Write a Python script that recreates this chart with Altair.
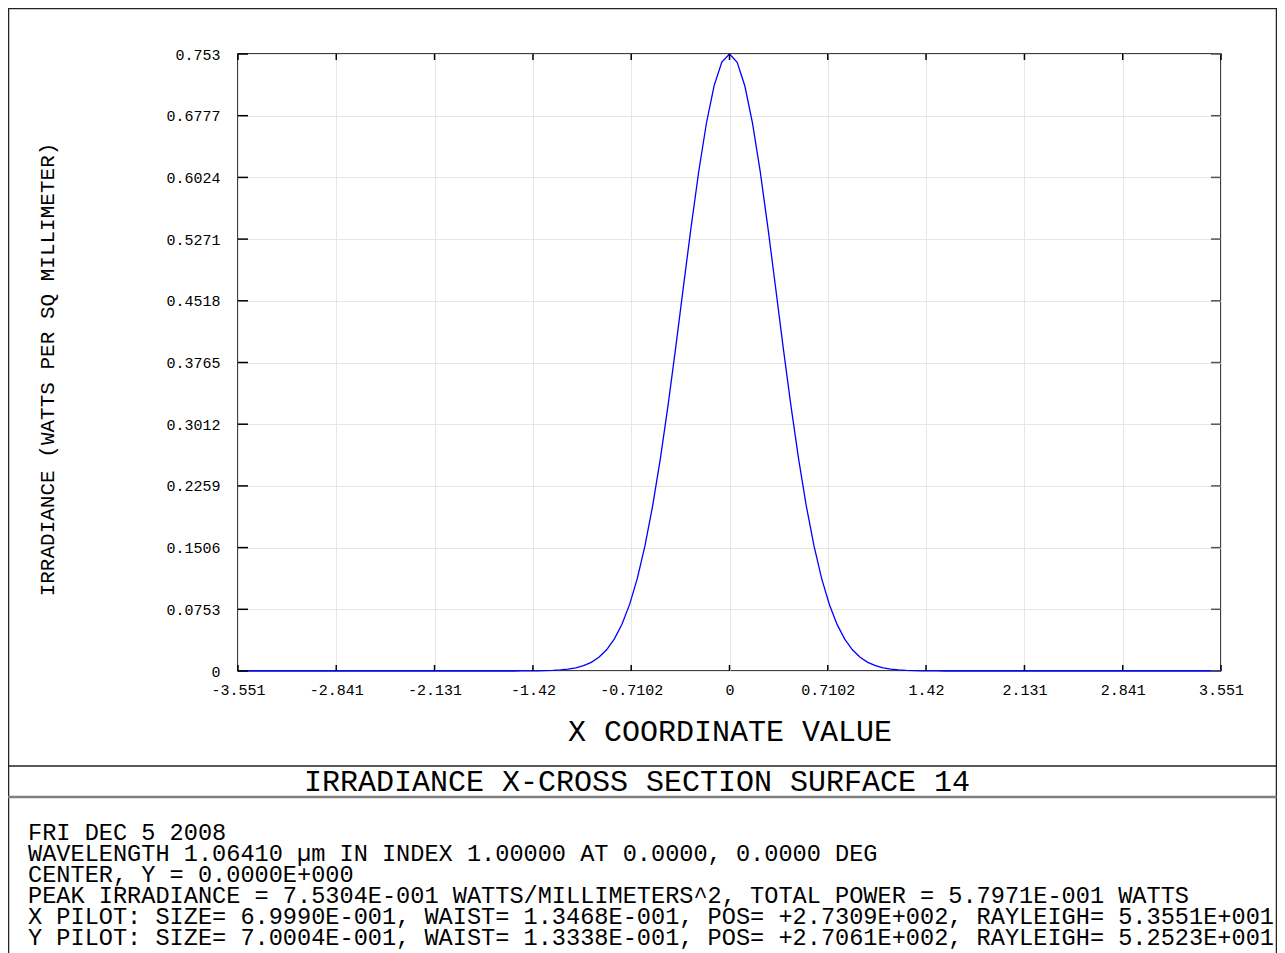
import altair as alt
import pandas as pd

# ---- data ----
x_vals = [-3.551, -1.554, -1.4985, -1.443, -1.3875, -1.332, -1.2765, -1.221, -1.1655, -1.11,
          -1.0545, -0.999, -0.9435, -0.888, -0.8325, -0.777, -0.7215, -0.666, -0.6105, -0.555,
          -0.4995, -0.444, -0.3885, -0.333, -0.2775, -0.222, -0.1665, -0.111, -0.0555, 0.0,
          0.0555, 0.111, 0.1665, 0.222, 0.2775, 0.333, 0.3885, 0.444, 0.4995, 0.555,
          0.6105, 0.666, 0.7215, 0.777, 0.8325, 0.888, 0.9435, 0.999, 1.0545, 1.11,
          1.1655, 1.221, 1.2765, 1.332, 1.3875, 1.443, 1.4985, 1.554, 3.551]
y_vals = [0.0, 0.0, 0.0001, 0.0001, 0.0002, 0.0004, 0.0007, 0.0013, 0.0023, 0.0039,
          0.0065, 0.0105, 0.0167, 0.0259, 0.0389, 0.0570, 0.0813, 0.1130, 0.1530, 0.2018,
          0.2591, 0.3242, 0.3950, 0.4687, 0.5418, 0.6099, 0.6688, 0.7144, 0.7431, 0.7530,
          0.7428, 0.7139, 0.6683, 0.6094, 0.5410, 0.4680, 0.3941, 0.3235, 0.2586, 0.2013,
          0.1527, 0.1128, 0.0812, 0.0569, 0.0389, 0.0259, 0.0167, 0.0105, 0.0065, 0.0039,
          0.0023, 0.0013, 0.0007, 0.0004, 0.0002, 0.0001, 0.0001, 0.0, 0.0]

x_ticks = [-3.551, -2.841, -2.131, -1.42, -0.7102, 0, 0.7102, 1.42, 2.131, 2.841, 3.551]
y_ticks = [0, 0.0753, 0.1506, 0.2259, 0.3012, 0.3765, 0.4518, 0.5271, 0.6024, 0.6777, 0.753]

x_title = "X COORDINATE VALUE"
y_title = "IRRADIANCE (WATTS PER SQ MILLIMETER)"
main_title = "IRRADIANCE X-CROSS SECTION SURFACE 14"
info_lines = [
    "FRI DEC 5 2008",
    "WAVELENGTH 1.06410 \u00b5m IN INDEX 1.00000 AT 0.0000, 0.0000 DEG",
    "CENTER, Y = 0.0000E+000",
    "PEAK IRRADIANCE = 7.5304E-001 WATTS/MILLIMETERS^2, TOTAL POWER = 5.7971E-001 WATTS",
    "X PILOT: SIZE= 6.9990E-001, WAIST= 1.3468E-001, POS= +2.7309E+002, RAYLEIGH= 5.3551E+001",
    "Y PILOT: SIZE= 7.0004E-001, WAIST= 1.3338E-001, POS= +2.7061E+002, RAYLEIGH= 5.2523E+001",
]

FONT = "Liberation Mono"
W, H = 983, 617

df = pd.DataFrame({"x": x_vals, "y": y_vals})
xt = pd.DataFrame({"v": x_ticks})
yt = pd.DataFrame({"v": y_ticks})
one = pd.DataFrame({"a": [0]})

xscale = alt.Scale(domain=[-3.551, 3.551], nice=False, zero=False)
yscale = alt.Scale(domain=[0, 0.753], nice=False, zero=False)

x_axis = alt.Axis(
    values=x_ticks, labelExpr="'' + datum.value", title=x_title,
    grid=True, gridColor="#e6e6e6", gridWidth=1, ticks=False, tickSize=0, domain=False,
    labelFont=FONT, labelFontSize=15, labelColor="black", labelBaseline="middle",
    labelPadding=18, labelFlush=False, labelOverlap=False,
    titleFont=FONT, titleFontSize=30, titleFontWeight="normal", titleColor="black",
    titleY=60, titleBaseline="middle")
y_axis = alt.Axis(
    values=y_ticks, labelExpr="'' + datum.value", title=y_title,
    grid=True, gridColor="#e6e6e6", gridWidth=1, ticks=False, tickSize=0, domain=False,
    labelFont=FONT, labelFontSize=15, labelColor="black", labelAlign="right",
    labelPadding=18, labelFlush=False, labelOverlap=False,
    titleFont=FONT, titleFontSize=21, titleFontWeight="normal", titleColor="black",
    titleX=-191, titleY=315, titleAngle=270, titleBaseline="middle", titleAlign="center")

line = alt.Chart(df).mark_line(color="#0000ff", strokeWidth=1.3).encode(
    x=alt.X("x:Q", scale=xscale, axis=x_axis),
    y=alt.Y("y:Q", scale=yscale, axis=y_axis),
)

tick_style = dict(color="black", strokeWidth=1.5)
bottom_ticks = alt.Chart(xt).mark_rule(**tick_style).encode(
    x=alt.X("v:Q", scale=xscale, axis=x_axis), y=alt.value(H), y2=alt.value(H - 6))
top_ticks = alt.Chart(xt).mark_rule(**tick_style).encode(
    x=alt.X("v:Q", scale=xscale, axis=x_axis), y=alt.value(0), y2=alt.value(6))
left_ticks = alt.Chart(yt).mark_rule(**tick_style).encode(
    y=alt.Y("v:Q", scale=yscale, axis=y_axis), x=alt.value(0), x2=alt.value(10))
right_ticks = alt.Chart(yt).mark_rule(color="#555555", strokeWidth=1.5).encode(
    y=alt.Y("v:Q", scale=yscale, axis=y_axis), x=alt.value(W - 10), x2=alt.value(W))

RIGHT_EDGE = 1038.5
frame = alt.Chart(one).mark_rect(filled=False, stroke="#222222", strokeWidth=1.5).encode(
    x=alt.value(-229.5), x2=alt.value(RIGHT_EDGE), y=alt.value(-45.5), y2=alt.value(1000))
sep1 = alt.Chart(one).mark_rule(color="#222222", strokeWidth=1.5).encode(
    x=alt.value(-230), x2=alt.value(RIGHT_EDGE), y=alt.value(712))
sep2 = alt.Chart(one).mark_rule(color="#808080", strokeWidth=2.5).encode(
    x=alt.value(-230), x2=alt.value(RIGHT_EDGE), y=alt.value(743))

title_txt = alt.Chart(one).mark_text(
    font=FONT, fontSize=30, color="black", align="center", baseline="middle", text=main_title
).encode(x=alt.value(399), y=alt.value(728))

layers = [line, bottom_ticks, top_ticks, left_ticks, right_ticks, frame, sep1, sep2, title_txt]
for i, t in enumerate(info_lines):
    layers.append(alt.Chart(one).mark_text(
        font=FONT, fontSize=23.6, color="black", align="left", baseline="alphabetic", text=t
    ).encode(x=alt.value(-210), y=alt.value(785.7 + 21 * i)))

chart = alt.layer(*layers).properties(
    width=W, height=H,
    padding={"left": 230, "top": 46, "right": 56, "bottom": 282},
    autosize=alt.AutoSizeParams(type="none"),
    background="white",
).configure_view(stroke="black", strokeWidth=1.5)

chart.save("out.html", embed_options={"renderer": "svg", "actions": False})
